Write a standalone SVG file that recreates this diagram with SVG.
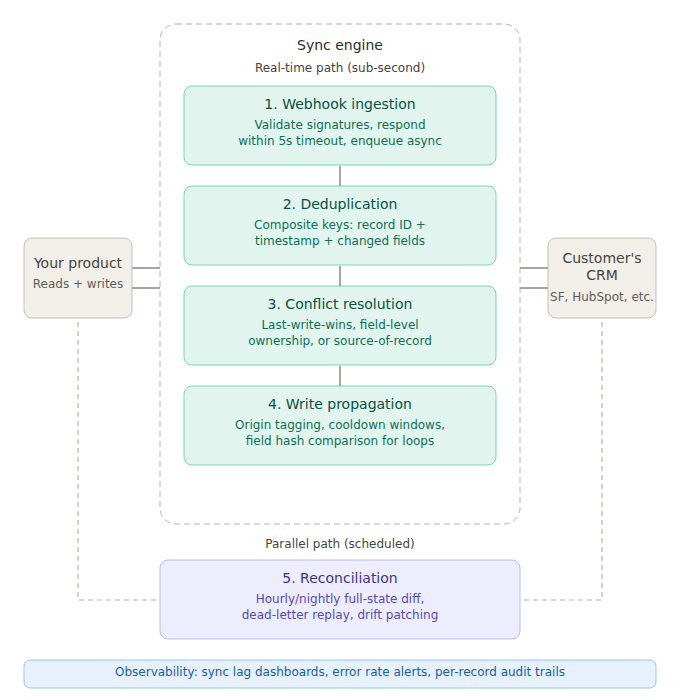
<svg xmlns="http://www.w3.org/2000/svg" width="680" height="700" viewBox="0 0 680 700">
<style>
text{font-family:"DejaVu Sans","Noto Sans",sans-serif;text-anchor:middle}
.t{font-size:14px}
.s{font-size:12px}
.step rect{fill:#e1f5ee;stroke:#5dcaa5;stroke-width:0.8}
.step .t{fill:#085041}
.step .s{fill:#0f6e56}
.gray rect{fill:#f1efe8;stroke:#b4b2a9;stroke-width:0.8}
.gray .t{fill:#444441}
.gray .s{fill:#5f5e5a}
.solid{stroke:#888780;stroke-width:1.5;fill:none}
.dash{stroke:#b4b2a9;stroke-width:1.2;stroke-dasharray:5 4;fill:none}
</style>
<g id="sync-engine">
<rect x="160" y="24" width="360" height="500" rx="16" fill="none" stroke="#b4b2a9" stroke-width="1" stroke-dasharray="6 4"/>
<text class="t" x="340" y="50" fill="#2c2c2a">Sync engine</text>
<text class="s" x="340" y="72" fill="#444441">Real-time path (sub-second)</text>
</g>
<g id="connectors">
<line class="solid" x1="340" y1="166" x2="340" y2="186"/>
<line class="solid" x1="340" y1="266" x2="340" y2="286"/>
<line class="solid" x1="340" y1="366" x2="340" y2="386"/>
<line class="solid" x1="132" y1="268" x2="160" y2="268"/>
<line class="solid" x1="132" y1="288" x2="160" y2="288"/>
<line class="solid" x1="520" y1="268" x2="548" y2="268"/>
<line class="solid" x1="520" y1="288" x2="548" y2="288"/>
<path class="dash" d="M78 322 V600 H160"/>
<path class="dash" d="M602 322 V600 H520"/>
</g>
<g id="step1" class="step">
<rect x="184" y="86" width="312" height="79" rx="8"/>
<text class="t" x="340" y="109">1. Webhook ingestion</text>
<text class="s" x="340" y="129">Validate signatures, respond</text>
<text class="s" x="340" y="145">within 5s timeout, enqueue async</text>
</g>
<g id="step2" class="step">
<rect x="184" y="186" width="312" height="79" rx="8"/>
<text class="t" x="340" y="209">2. Deduplication</text>
<text class="s" x="340" y="229">Composite keys: record ID +</text>
<text class="s" x="340" y="245">timestamp + changed fields</text>
</g>
<g id="step3" class="step">
<rect x="184" y="286" width="312" height="79" rx="8"/>
<text class="t" x="340" y="309">3. Conflict resolution</text>
<text class="s" x="340" y="329">Last-write-wins, field-level</text>
<text class="s" x="340" y="345">ownership, or source-of-record</text>
</g>
<g id="step4" class="step">
<rect x="184" y="386" width="312" height="79" rx="8"/>
<text class="t" x="340" y="409">4. Write propagation</text>
<text class="s" x="340" y="429">Origin tagging, cooldown windows,</text>
<text class="s" x="340" y="445">field hash comparison for loops</text>
</g>
<g id="product" class="gray">
<rect x="24" y="238" width="108" height="80" rx="8"/>
<text class="t" x="78" y="268">Your product</text>
<text class="s" x="78" y="288">Reads + writes</text>
</g>
<g id="crm" class="gray">
<rect x="548" y="238" width="108" height="80" rx="8"/>
<text class="t" x="602" y="263">Customer's</text>
<text class="t" x="602" y="280">CRM</text>
<text class="s" x="602" y="301">SF, HubSpot, etc.</text>
</g>
<g id="parallel-label">
<text class="s" x="340" y="548" fill="#444441">Parallel path (scheduled)</text>
</g>
<g id="reconciliation">
<rect x="160" y="560" width="360" height="79" rx="8" fill="#eeedfe" stroke="#afa9ec" stroke-width="0.8"/>
<text class="t" x="340" y="583" fill="#3c3489">5. Reconciliation</text>
<text class="s" x="340" y="603" fill="#534ab7">Hourly/nightly full-state diff,</text>
<text class="s" x="340" y="619" fill="#534ab7">dead-letter replay, drift patching</text>
</g>
<g id="observability">
<rect x="24" y="660" width="632" height="28" rx="6" fill="#e6f1fb" stroke="#85b7eb" stroke-width="0.8"/>
<text class="s" x="340" y="676" fill="#185fa5">Observability: sync lag dashboards, error rate alerts, per-record audit trails</text>
</g>
</svg>
